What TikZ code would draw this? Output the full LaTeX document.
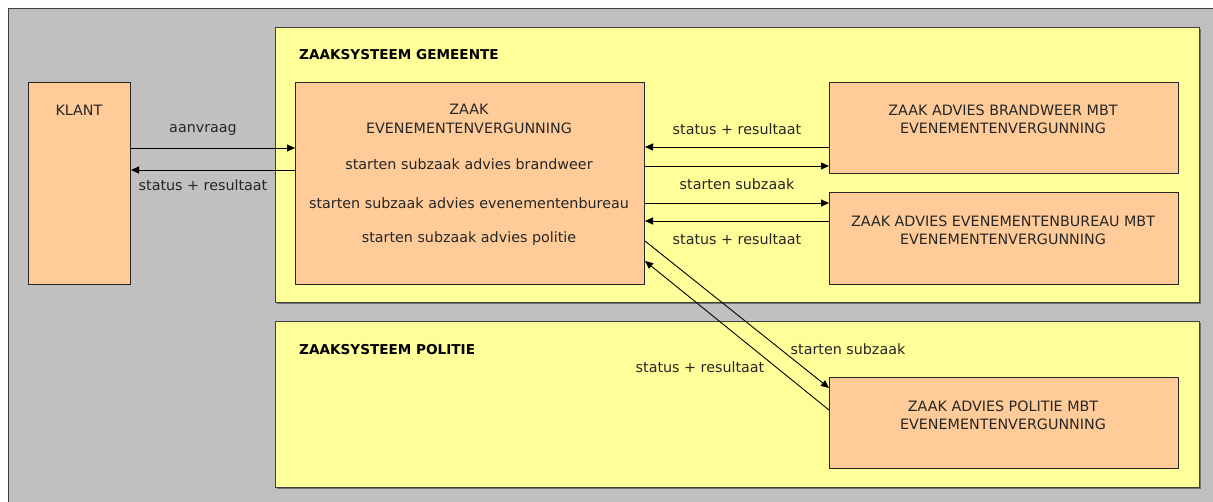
\documentclass[tikz,border=0pt]{standalone}
\usepackage{fontspec}
\setmainfont{DejaVu Sans}
\usetikzlibrary{arrows.meta}
\definecolor{bggray}{HTML}{C0C0C0}
\definecolor{sysyellow}{HTML}{FFFF99}
\definecolor{caseorange}{HTML}{FFCC99}
\definecolor{edgegray}{HTML}{404040}
\tikzset{
  sysbox/.style={draw=edgegray, line width=1pt, fill=sysyellow, anchor=north west, inner sep=0pt},
  casebox/.style={draw=black!85, line width=1pt, fill=caseorange, anchor=north west, inner sep=0pt},
  txt/.style={font=\fontsize{14.3}{17}\selectfont, text=black!85, inner sep=0pt},
  ttl/.style={font=\fontsize{13.6}{16}\selectfont\bfseries, anchor=west, inner sep=0pt},
  arr/.style={line width=0.9pt, -{Triangle[length=8pt,width=7pt]}},
  shadow/.style={fill=black!55, draw=none}
}
\begin{document}
\begin{tikzpicture}[x=1pt,y=-1pt]
\useasboundingbox (0,0) rectangle (1213,501);
\fill[white] (0,0) rectangle (1213,501);
% outer gray area
\node[draw=edgegray, line width=1pt, fill=bggray, anchor=north west, inner sep=0pt, minimum width=1210pt, minimum height=500pt] (outer) at (8,8) {};
% system boxes with shadows
\fill[shadow] (277,29) rectangle (1201,304);
\node[sysbox, minimum width=924pt, minimum height=275pt] (gem) at (275,27) {};
\fill[shadow] (277,323) rectangle (1201,489);
\node[sysbox, minimum width=924pt, minimum height=166pt] (pol) at (275,321) {};
\node[ttl] (gemtitle) at (299,55) {ZAAKSYSTEEM GEMEENTE};
\node[ttl] (poltitle) at (299,350) {ZAAKSYSTEEM POLITIE};
% case boxes
\node[casebox, minimum width=102pt, minimum height=202pt] (klant) at (28,82) {};
\node[casebox, minimum width=349pt, minimum height=202pt] (zaak) at (295,82) {};
\node[casebox, minimum width=349pt, minimum height=91pt] (brand) at (829,82) {};
\node[casebox, minimum width=349pt, minimum height=92pt] (bureau) at (829,192) {};
\node[casebox, minimum width=349pt, minimum height=91pt] (politie) at (829,377) {};
% texts in boxes
\node[txt] (klanttxt) at (79,110) {KLANT};
\node[txt] (z1) at (469,109) {ZAAK};
\node[txt] (z2) at (469,128) {EVENEMENTENVERGUNNING};
\node[txt] (z3) at (469,164) {starten subzaak advies brandweer};
\node[txt] (z4) at (469,203) {starten subzaak advies evenementenbureau};
\node[txt] (z5) at (469,239) {starten subzaak advies politie};
\node[txt] (b1) at (1003,110) {ZAAK ADVIES BRANDWEER MBT};
\node[txt] (b2) at (1003,128) {EVENEMENTENVERGUNNING};
\node[txt] (e1) at (1003,221) {ZAAK ADVIES EVENEMENTENBUREAU MBT};
\node[txt] (e2) at (1003,239) {EVENEMENTENVERGUNNING};
\node[txt] (p1) at (1003,406) {ZAAK ADVIES POLITIE MBT};
\node[txt] (p2) at (1003,424) {EVENEMENTENVERGUNNING};
% connectors
\draw[arr] ([yshift=-66pt]klant.north east) -- ([yshift=-66pt]zaak.north west);
\draw[arr] ([yshift=-88pt]zaak.north west) -- ([yshift=-88pt]klant.north east);
\node[txt] (l1) at (203,130) {aanvraag};
\node[txt] (l2) at (203,185) {status + resultaat};
\draw[arr] ([yshift=-65pt]brand.north west) -- ([yshift=-65pt]zaak.north east);
\draw[arr] ([yshift=-84pt]zaak.north east) -- ([yshift=-84pt]brand.north west);
\node[txt] (l3) at (737,129) {status + resultaat};
\node[txt] (l4) at (737,184) {starten subzaak};
\draw[arr] ([yshift=-121pt]zaak.north east) -- ([yshift=-11pt]bureau.north west);
\draw[arr] ([yshift=-29pt]bureau.north west) -- ([yshift=-139pt]zaak.north east);
\node[txt] (l5) at (737,239) {status + resultaat};
\draw[arr] ([yshift=-159pt]zaak.north east) -- ([yshift=-11pt]politie.north west);
\draw[arr] ([yshift=-33pt]politie.north west) -- ([yshift=-179pt]zaak.north east);
\node[txt] (l6) at (848,349) {starten subzaak};
\node[txt] (l7) at (700,367) {status + resultaat};
\end{tikzpicture}
\end{document}
